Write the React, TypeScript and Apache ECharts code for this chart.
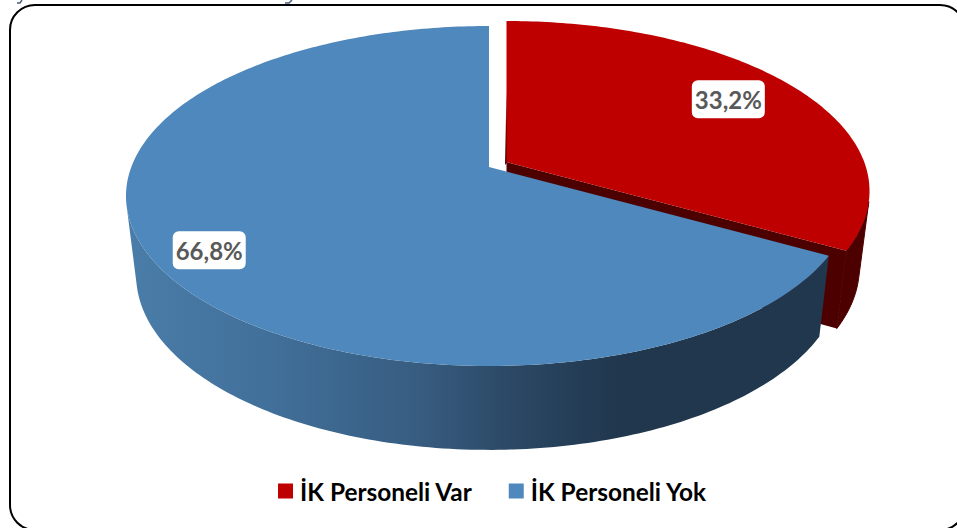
import React, { useEffect, useRef } from "react";
import * as echarts from "echarts";

const categories = ["İK Personeli Var", "İK Personeli Yok"];
const shares = [33.2, 66.8];
const topColors = ["#BE0000", "#4F88BC"];

const WIDTH = 957;
const HEIGHT = 528;

// perspective projection of the pie disc (x right, y toward viewer, both -1..1)
const RX = 357.7;
const RY = 165.05;
const PERSP = -0.1706;
const SHRINK = 0.972;

const apexes = [
  { x: 506.5, y: 162, depth: 71 },
  { x: 489, y: 167, depth: 74 },
];
const labelRadius = [0.765, 0.84];
const labelShift = [-3, 8];

type Pt = { x: number; y: number };

function project(apex: Pt, theta: number, r: number): Pt {
  const dx = Math.sin(theta) * r;
  const dy = -Math.cos(theta) * r;
  const den = 1 + PERSP * dy;
  return { x: apex.x + (RX * dx) / den, y: apex.y + (RY * dy) / den };
}

function lower(apex: Pt & { depth: number }, p: Pt) {
  return [apex.x + (p.x - apex.x) * SHRINK, p.y + apex.depth + 0.027 * p.y];
}

function arc(apex: Pt, a: number, b: number) {
  const n = Math.max(8, Math.ceil(Math.abs(b - a) * 60));
  const out: Pt[] = [];
  for (let i = 0; i <= n; i++) out.push(project(apex, a + ((b - a) * i) / n, 1));
  return out;
}

function sliceRange(index: number) {
  const total = shares.reduce((s, v) => s + v, 0);
  const before = shares.slice(0, index).reduce((s, v) => s + v, 0);
  return [(before / total) * Math.PI * 2, ((before + shares[index]) / total) * Math.PI * 2];
}

const blueWall = () =>
  new (echarts.graphic as any).LinearGradient(
    126, 0, 830, 0,
    [
      { offset: 0, color: "#4A7DA9" },
      { offset: 0.2, color: "#41709A" },
      { offset: 0.42, color: "#375C80" },
      { offset: 0.55, color: "#2B4864" },
      { offset: 0.7, color: "#20374E" },
      { offset: 1, color: "#20374E" },
    ],
    true
  );

const DARK_RED = "#4D0000";

function renderSlice(params: any, api: any) {
  const i = params.seriesIndex;
  const value = api.value(0);
  const apex = apexes[i];
  const [start, end] = sliceRange(i);
  const top = arc(apex, start, end);
  const children: any[] = [];
  const wallFill = i === 0 ? DARK_RED : blueWall();

  // cut face at the end of the slice
  const endP = project(apex, end, 1);
  const apexBottom = lower(apex, { x: apex.x, y: apex.y });
  children.push({
    type: "polygon",
    shape: { points: [[apex.x, apex.y], [endP.x, endP.y], lower(apex, endP), apexBottom] },
    style: { fill: i === 0 ? DARK_RED : "#20374E" },
  });
  if (i === 0) {
    children.push({
      type: "polygon",
      shape: { points: [[apex.x - 1.5, apex.y + 3], [apex.x, apex.y - 70], [apex.x + 1, apex.y]] },
      style: { fill: DARK_RED },
    });
  }

  // outer wall: only the part of the rim that faces the viewer
  const visible = top.filter((p, k) => {
    const q = top[Math.min(k + 1, top.length - 1)];
    const o = top[Math.max(k - 1, 0)];
    const b = lower(apex, p);
    return (q.x - o.x) * (b[1] - p.y) - (q.y - o.y) * (b[0] - p.x) < 0;
  });
  children.push({
    type: "polygon",
    shape: {
      points: [...visible.map((p) => [p.x, p.y]), ...visible.slice().reverse().map((p) => lower(apex, p))],
    },
    style: i === 0 ? { fill: wallFill, stroke: DARK_RED, lineWidth: 1 } : { fill: wallFill },
  });

  // top face
  children.push({
    type: "polygon",
    shape: { points: [[apex.x, apex.y], ...top.map((p) => [p.x, p.y])] },
    style: { fill: topColors[i] },
  });

  // data label
  const pos = project(apex, (start + end) / 2, labelRadius[i]);
  const ly = pos.y + labelShift[i];
  children.push({
    type: "rect",
    shape: { x: pos.x - 36.5, y: ly - 19, width: 73, height: 38, r: 6 },
    style: { fill: "#FFFFFF" },
  });
  children.push({
    type: "text",
    style: {
      text: value.toFixed(1).replace(".", ",") + "%",
      x: pos.x,
      y: ly,
      align: "center",
      verticalAlign: "middle",
      fill: "#595959",
      font: 'bold 24px Lato, "Open Sans", sans-serif',
    },
  });
  return { type: "group", children };
}

export default function App() {
  const ref = useRef<HTMLDivElement>(null);
  useEffect(() => {
    const chart = echarts.init(ref.current!, null, { renderer: "svg" });
    chart.setOption({
      animation: false,
      backgroundColor: "#FFFFFF",
      legend: {
        data: categories,
        left: 278,
        top: 479,
        padding: 0,
        icon: "rect",
        itemWidth: 15,
        itemHeight: 15,
        itemGap: 36,
        selectedMode: false,
        textStyle: {
          color: "#000000",
          fontFamily: 'Lato, "Open Sans", sans-serif',
          fontWeight: "bold",
          fontSize: 24.4,
          padding: [0, 0, 0, 2],
        },
      },
      graphic: [
        {
          type: "rect",
          shape: { x: 10, y: 5, width: 955, height: 525, r: 25 },
          style: { fill: "none", stroke: "#000000", lineWidth: 2 },
          z: 10,
        },
        {
          type: "polyline",
          shape: { points: [[17, 3], [20, 3], [22, 0]] },
          style: { fill: "none", stroke: "#4A5F80", lineWidth: 1.5 },
        },
        {
          type: "polyline",
          shape: { points: [[285, 3], [289, 3], [292, 0]] },
          style: { fill: "none", stroke: "#4A5F80", lineWidth: 1.5 },
        },
      ],
      series: categories.map((name, i) => ({
        type: "custom",
        name,
        coordinateSystem: "none",
        renderItem: renderSlice,
        itemStyle: { color: topColors[i] },
        data: [[shares[i]]],
        silent: true,
      })),
    });
    return () => chart.dispose();
  }, []);
  return (
    <div
      ref={ref}
      style={{ position: "absolute", left: 0, top: 0, width: WIDTH, height: HEIGHT, background: "#fff" }}
    />
  );
}
